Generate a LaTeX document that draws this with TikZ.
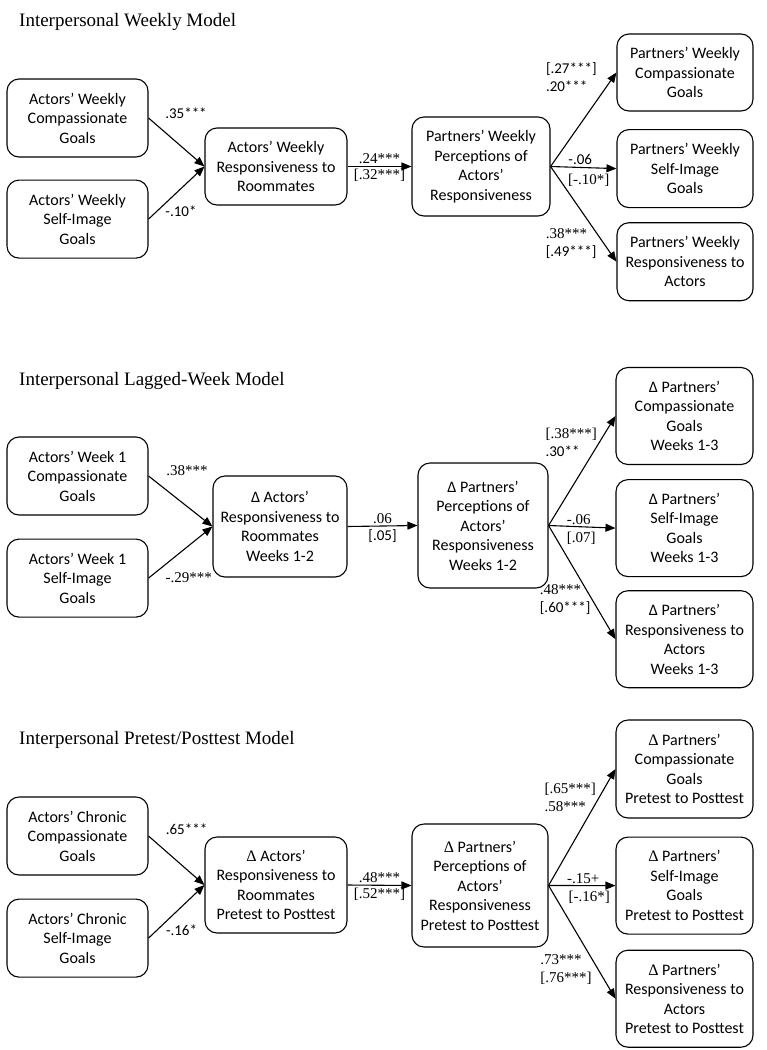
\documentclass[tikz,border=0pt]{standalone}
\usepackage{fontspec}
\setmainfont{Liberation Serif}
\newfontfamily\calfont{Carlito}
\usetikzlibrary{positioning}
\usetikzlibrary{arrows.meta}

\newcommand{\sfn}[1]{{\calfont #1}}

\begin{document}
\begin{tikzpicture}[x=1pt, y=-1pt,
    box/.style={draw, rounded corners=12pt, line width=1.1pt, align=center, inner xsep=2pt,
        font=\calfont\fontsize{16}{19.5}\selectfont},
    dims/.style 2 args={minimum width=#1, minimum height=#2},
    title/.style={anchor=base west, inner sep=0pt, font=\fontsize{19}{22}\selectfont},
    lbl/.style={inner sep=1pt, align=left, font=\fontsize{15}{18}\selectfont},
    sflbl/.style={lbl, font=\calfont\fontsize{15}{18}\selectfont}]
    \useasboundingbox (0,0) rectangle (767,1050);

    % titles
    \node[title] (t1) at (19,26) {Interpersonal Weekly Model};
    \node[title] (t2) at (19,385.5) {Interpersonal Lagged-Week Model};
    \node[title] (t3) at (19,744.5) {Interpersonal Pretest/Posttest Model};

    %Weekly model
    \node[box, dims={141pt}{78pt}] (wa1) at (77.5,118) {Actors’ Weekly\\Compassionate\\Goals};
    \node[box, dims={141pt}{78pt}] (wa2) [below=22pt of wa1] {Actors’ Weekly\\Self-Image\\Goals};
    \node[box, dims={142pt}{77pt}] (wm) at (276,166.5) {Actors’ Weekly\\Responsiveness to\\Roommates};
    \node[box, dims={138pt}{99pt}] (wp) at (481,166.5) {Partners’ Weekly\\Perceptions of\\Actors’\\Responsiveness};
    \node[box, dims={136pt}{77pt}] (wr1) at (685,72.5) {Partners’ Weekly\\Compassionate\\Goals};
    \node[box, dims={136pt}{78pt}] (wr2) [below=17.5pt of wr1] {Partners’ Weekly\\Self-Image\\Goals};
    \node[box, dims={136pt}{78pt}] (wr3) [below=14pt of wr2] {Partners’ Weekly\\Responsiveness to\\Actors};

    %Lagged-week model
    \node[box, dims={141pt}{78pt}] (la1) at (77.5,476) {Actors’ Week 1\\Compassionate\\Goals};
    \node[box, dims={141pt}{78pt}] (la2) [below=23pt of la1] {Actors’ Week 1\\Self-Image\\Goals};
    \node[box, dims={134pt}{101pt}] (lm) at (280,526.5) {Δ Actors’\\Responsiveness to\\Roommates\\Weeks 1-2};
    \node[box, dims={130pt}{125pt}] (lp) at (483,525.5) {Δ Partners’\\Perceptions of\\Actors’\\Responsiveness\\Weeks 1-2};
    \node[box, dims={137pt}{97pt}] (lr1) at (684.5,416) {Δ Partners’\\Compassionate\\Goals\\Weeks 1-3};
    \node[box, dims={137pt}{97pt}] (lr2) [below=14pt of lr1] {Δ Partners’\\Self-Image\\Goals\\Weeks 1-3};
    \node[box, dims={137pt}{97pt}] (lr3) [below=13pt of lr2] {Δ Partners’\\Responsiveness to\\Actors\\Weeks 1-3};

    %Pretest/posttest model
    \node[box, dims={141pt}{78pt}] (pa1) at (77.5,836) {Actors’ Chronic\\Compassionate\\Goals};
    \node[box, dims={141pt}{78pt}] (pa2) [below=23pt of pa1] {Actors’ Chronic\\Self-Image\\Goals};
    \node[box, dims={142pt}{96pt}] (pm) at (276,885) {{\rmfamily Δ} Actors’\\Responsiveness to\\Roommates\\Pretest to Posttest};
    \node[box, dims={136pt}{123pt}] (pp) at (480,885.5) {{\rmfamily Δ} Partners’\\Perceptions of\\Actors’\\Responsiveness\\Pretest to Posttest};
    \node[box, dims={137pt}{98pt}] (pr1) at (684.5,769) {{\rmfamily Δ} Partners’\\Compassionate\\Goals\\Pretest to Posttest};
    \node[box, dims={137pt}{97pt}] (pr2) [below=18pt of pr1] {{\rmfamily Δ} Partners’\\Self-Image\\Goals\\Pretest to Posttest};
    \node[box, dims={137pt}{97pt}] (pr3) [below=15pt of pr2] {{\rmfamily Δ} Partners’\\Responsiveness to\\Actors\\Pretest to Posttest};

    %Paths
    \begin{scope}[>={Triangle[length=10pt,width=8pt]}, line width=1.1pt]
        \draw[->] (wa1.east) -- (wm.west) node[sflbl, pos=.67, above=30pt] {.35***};
        \draw[->] (wa2.east) -- (wm.west) node[sflbl, pos=.58, below=16pt] {-.10*};
        \draw[->] (wm.east) -- (wp.west) node[lbl, midway, above=1pt] {.24***} node[lbl, midway, below=1pt] {[.32***]};
        \draw[->] (wp.east) -- (wr1.west) node[lbl, pos=.95, left=15pt] {\sfn{[.27***]}\\\sfn{.20***}};
        \draw[->] (wp.east) -- (wr2.west) node[sflbl, pos=.45, above=1pt] {-.06} node[lbl, pos=.58, below=5pt] {[-.10*]};
        \draw[->] (wp.east) -- (wr3.west) node[lbl, pos=.81, left=6pt] {.38***\\\sfn{[.49***]}};

        \draw[->] (la1.east) -- (lm.west) node[lbl, pos=.6, above=29pt] {.38***};
        \draw[->] (la2.east) -- (lm.west) node[lbl, pos=.63, below=25pt] {-.29***};
        \draw[->] (lm.east) -- (lp.west) node[lbl, midway, above=1pt] {.06} node[sflbl, midway, below=2pt] {[.05]};
        \draw[->] (lp.east) -- (lr1.west) node[lbl, pos=.76, left=1pt] {[.38***]\\\sfn{.30**}};
        \draw[->] (lp.east) -- (lr2.west) node[lbl, pos=.45, above=0pt] {-.06} node[lbl, pos=.49, below=4pt] {[.07]};
        \draw[->] (lp.east) -- (lr3.west) node[lbl, pos=.65, left=0pt] {.48***\\\sfn{[.60***]}};

        \draw[->] (pa1.east) -- (pm.west) node[sflbl, pos=.68, above=33pt] {.65***};
        \draw[->] (pa2.east) -- (pm.west) node[sflbl, pos=.59, below=17pt] {-.16*};
        \draw[->] (pm.east) -- (pp.west) node[lbl, midway, above=1pt] {.48***} node[lbl, midway, below=1pt] {[.52***]};
        \draw[->] (pp.east) -- (pr1.west) node[lbl, pos=.76, left=2pt] {[.65***]\\{}.58***};
        \draw[->] (pp.east) -- (pr2.west) node[lbl, pos=.52, above=0pt] {-.15+} node[lbl, pos=.61, below=4pt] {[-.16*]};
        \draw[->] (pp.east) -- (pr3.west) node[lbl, pos=.74, left=5pt] {.73***\\{}[.76***]};
    \end{scope}
\end{tikzpicture}
\end{document}
